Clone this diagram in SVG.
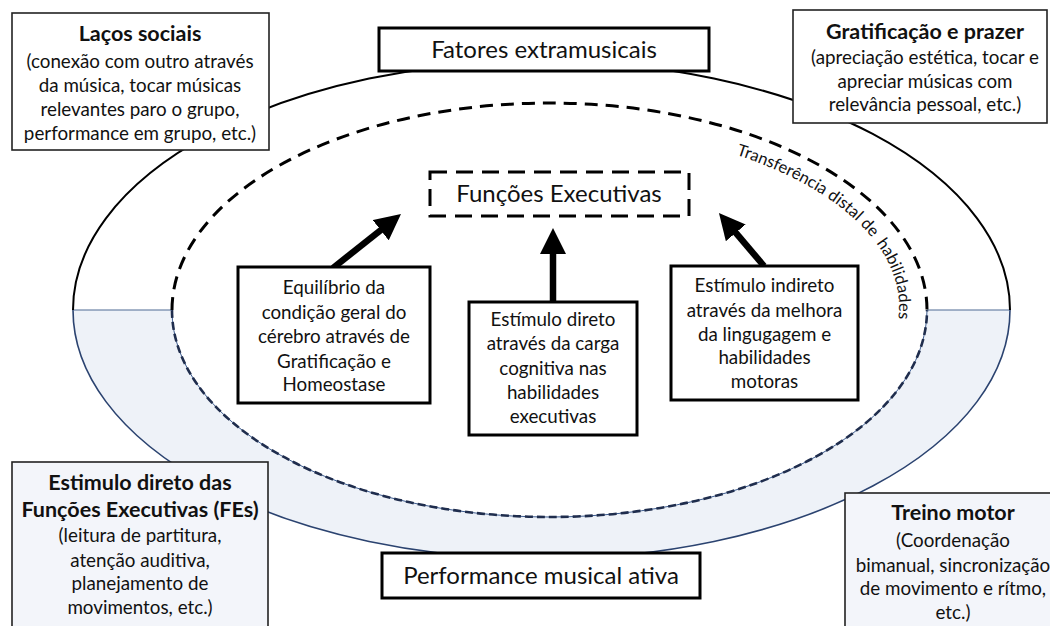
<svg xmlns="http://www.w3.org/2000/svg" width="1050" height="626" viewBox="0 0 1050 626">
  <style>
    text { font-family: Lato, "Liberation Sans", sans-serif; fill: #111; text-anchor: middle; }
    .body { font-size: 18.8px; }
    .title { font-size: 21.5px; font-weight: bold; }
    .big { font-size: 24px; }
    .curve { font-size: 16.5px; text-anchor: start; }
    .box { fill: #fff; stroke: #222; stroke-width: 1.6; }
    .box-blue { fill: #f3f5fa; stroke: #222; stroke-width: 1.6; }
    .inner-box { fill: #fff; stroke: #000; stroke-width: 3; }
    .arrow { stroke: #000; stroke-width: 6.5; fill: none; marker-end: url(#head); }
  </style>
  <defs>
    <marker id="head" markerUnits="userSpaceOnUse" markerWidth="26" markerHeight="26" refX="8" refY="13" orient="auto">
      <path d="M0,0 L26,13 L0,26 Z" fill="#000"/>
    </marker>
    <path id="transfer-path" d="M736,154.8 A350,180 0 0 1 887.6,352.6" fill="none"/>
  </defs>

  <rect width="1050" height="626" fill="#fff"/>

  <!-- performance band: lower half between the two ellipses -->
  <g id="band">
    <path d="M73,310 A468.5,249 0 0 0 1010,310 L927,310 A377.5,207 0 0 1 172,310 Z" fill="#eef2f8" stroke="none"/>
    <path d="M73,310 A468.5,249 0 0 0 1010,310" fill="none" stroke="#2b4370" stroke-width="1.6"/>
    <path d="M172,310 A377.5,207 0 0 0 927,310" fill="none" stroke="#3d5c8f" stroke-width="1"/>
    <path d="M172,310 A377.5,207 0 0 0 927,310" fill="none" stroke="#1f2d4d" stroke-width="2.6" stroke-dasharray="8 4"/>
    <line x1="73" y1="310" x2="172" y2="310" stroke="#4f6a94" stroke-width="1.2"/>
    <line x1="927" y1="310" x2="1010" y2="310" stroke="#4f6a94" stroke-width="1.2"/>
  </g>

  <!-- extramusical ring: upper halves -->
  <g id="ring">
    <path d="M73,310 A468.5,249 0 0 1 1010,310" fill="none" stroke="#000" stroke-width="2"/>
    <path d="M172,310 A377.5,207 0 0 1 927,310" fill="none" stroke="#000" stroke-width="3" stroke-dasharray="13 8"/>
    <!-- curved label, split in two runs along the same arc -->
    <text class="curve"><textPath href="#transfer-path">Transferência distal de</textPath></text>
    <text class="curve"><textPath href="#transfer-path" startOffset="168">habilidades</textPath></text>
  </g>

  <g id="connectors">
    <line class="arrow" x1="333" y1="268" x2="386.9" y2="225.2"/>
    <line class="arrow" x1="553" y1="302" x2="553" y2="246"/>
    <line class="arrow" x1="764" y1="266" x2="730.6" y2="226.7"/>
  </g>

  <g id="lacos-sociais">
    <rect class="box" x="12" y="13" width="257" height="137"/>
    <text class="title" x="140" y="41">Laços sociais</text>
    <text class="body" x="140" y="68">(conexão com outro através</text>
    <text class="body" x="140" y="92">da música, tocar músicas</text>
    <text class="body" x="140" y="116">relevantes paro o grupo,</text>
    <text class="body" x="140" y="140">performance em grupo, etc.)</text>
  </g>

  <g id="gratificacao">
    <rect class="box" x="793" y="10" width="254" height="113"/>
    <text class="title" x="925" y="39">Gratificação e prazer</text>
    <text class="body" x="925" y="64">(apreciação estética, tocar e</text>
    <text class="body" x="925" y="88">apreciar músicas com</text>
    <text class="body" x="925" y="111">relevância pessoal, etc.)</text>
  </g>

  <g id="fatores-extramusicais">
    <rect class="inner-box" x="379" y="28" width="330" height="43"/>
    <text class="big" x="544" y="58">Fatores extramusicais</text>
  </g>

  <g id="funcoes-executivas">
    <rect x="430" y="172" width="259" height="44" fill="#fff" stroke="#000" stroke-width="3" stroke-dasharray="17 9"/>
    <text class="big" x="559" y="202">Funções Executivas</text>
  </g>

  <g id="equilibrio">
    <rect class="inner-box" x="238" y="267" width="192" height="136"/>
    <text class="body" x="334" y="294">Equilíbrio da</text>
    <text class="body" x="334" y="319">condição geral do</text>
    <text class="body" x="334" y="343">cérebro através de</text>
    <text class="body" x="334" y="368">Gratificação e</text>
    <text class="body" x="334" y="391">Homeostase</text>
  </g>

  <g id="estimulo-direto">
    <rect class="inner-box" x="469" y="302" width="168" height="133"/>
    <text class="body" x="553" y="326">Estímulo direto</text>
    <text class="body" x="553" y="350">através da carga</text>
    <text class="body" x="553" y="375">cognitiva nas</text>
    <text class="body" x="553" y="399">habilidades</text>
    <text class="body" x="553" y="423">executivas</text>
  </g>

  <g id="estimulo-indireto">
    <rect class="inner-box" x="671" y="266" width="187" height="134"/>
    <text class="body" x="764.5" y="292">Estímulo indireto</text>
    <text class="body" x="764.5" y="317">através da melhora</text>
    <text class="body" x="764.5" y="341">da lingugagem e</text>
    <text class="body" x="764.5" y="364">habilidades</text>
    <text class="body" x="764.5" y="388">motoras</text>
  </g>

  <g id="estimulo-fes">
    <rect class="box-blue" x="12" y="462" width="256" height="175"/>
    <text class="title" x="140" y="490">Estimulo direto das</text>
    <text class="title" x="140" y="517">Funções Executivas (FEs)</text>
    <text class="body" x="140" y="542">(leitura de partitura,</text>
    <text class="body" x="140" y="567">atenção auditiva,</text>
    <text class="body" x="140" y="590">planejamento de</text>
    <text class="body" x="140" y="614">movimentos, etc.)</text>
  </g>

  <g id="treino-motor">
    <rect class="box-blue" x="845" y="493" width="220" height="145"/>
    <text class="title" x="953" y="520">Treino motor</text>
    <text class="body" x="953" y="547">(Coordenação</text>
    <text class="body" x="953" y="572">bimanual, sincronização</text>
    <text class="body" x="953" y="595">de movimento e rítmo,</text>
    <text class="body" x="953" y="619">etc.)</text>
  </g>

  <g id="performance-musical">
    <rect class="inner-box" x="382" y="553" width="318" height="45" fill="#f3f5fa"/>
    <text class="big" x="541" y="584">Performance musical ativa</text>
  </g>
</svg>
